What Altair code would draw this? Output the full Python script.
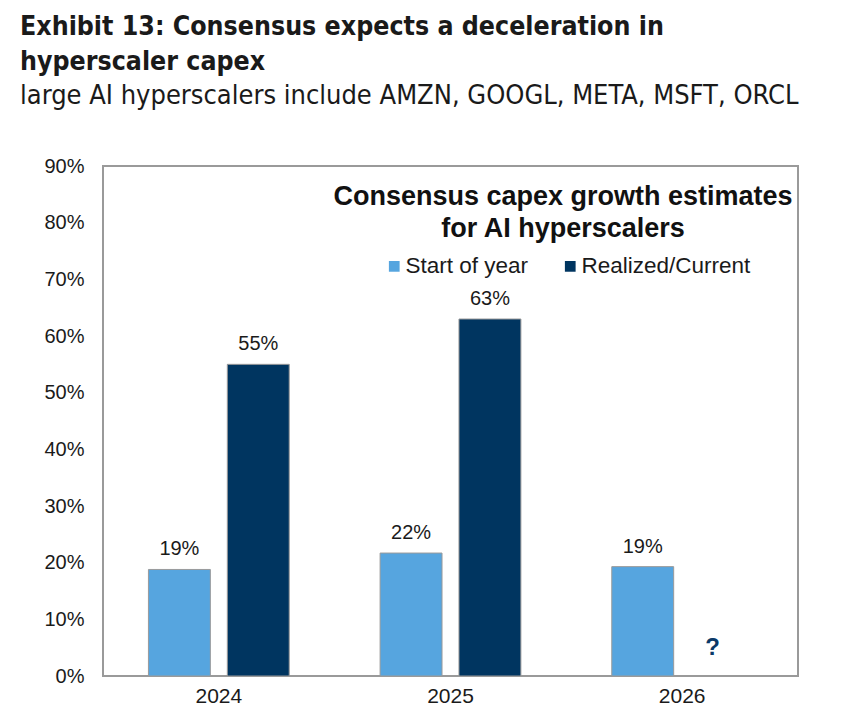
import altair as alt
import pandas as pd

years = ["2024", "2025", "2026"]
series = ["Start of year", "Realized/Current"]
start_of_year = [0.188, 0.217, 0.193]
realized = [0.55, 0.63, None]
unknown_year = "2026"
unknown_marker_value = 0.05
colors = ["#56A5DF", "#003560"]

rows = []
for y, s, r in zip(years, start_of_year, realized):
    rows.append({"year": y, "series": series[0], "value": s})
    if r is not None:
        rows.append({"year": y, "series": series[1], "value": r})
df = pd.DataFrame(rows)

q_df = pd.DataFrame([{"year": unknown_year, "series": series[1], "value": unknown_marker_value, "t": "?"}])
inner_title_df = pd.DataFrame([{"t": "Consensus capex growth estimates\nfor AI hyperscalers"}])

FONT = "Liberation Sans, Arial, sans-serif"
TFONT = "Liberation Sans Narrow, DejaVu Sans Condensed, sans-serif"

x_enc = alt.X("year:N", sort=years, title=None,
              scale=alt.Scale(paddingInner=0, paddingOuter=0),
              axis=alt.Axis(labelAngle=0, ticks=False, domain=False, labelPadding=9,
                            labelFontSize=21, labelColor="#1a1a1a", labelFont=FONT))
xo_enc = alt.XOffset("series:N", sort=series,
                     scale=alt.Scale(paddingInner=0.215, paddingOuter=0.576))
y_enc = alt.Y("value:Q", title=None,
              scale=alt.Scale(domain=[0, 0.9], nice=False),
              axis=alt.Axis(format=".0%", values=[i / 10 for i in range(10)], grid=False,
                            ticks=False, domain=False, labelPadding=19, labelFontSize=20,
                            labelColor="#1a1a1a", labelFont=FONT, minExtent=83))

base = alt.Chart(df)

bars = base.mark_bar(stroke="#9a9a9a", strokeWidth=1).encode(
    x=x_enc, xOffset=xo_enc, y=y_enc,
    color=alt.Color("series:N", sort=series,
                    scale=alt.Scale(domain=series, range=colors),
                    legend=alt.Legend(title=None, orient="none", direction="horizontal",
                                      legendX=280, legendY=89, symbolType="square",
                                      symbolSize=115, symbolStrokeWidth=0,
                                      labelFontSize=22.5, labelFont=FONT, labelColor="#1a1a1a",
                                      labelLimit=400, columnPadding=30, labelOffset=0)),
)

labels = base.mark_text(baseline="bottom", dy=-10, fontSize=20, font=FONT, color="#1a1a1a").encode(
    x=x_enc, xOffset=xo_enc, y=y_enc,
    text=alt.Text("value:Q", format=".0%"),
)

qmark = alt.Chart(q_df).mark_text(fontSize=24, fontWeight="bold", font=FONT, color="#0b3a68", dx=-9).encode(
    x=x_enc, xOffset=xo_enc, y=y_enc, text="t:N",
)

inner_title = alt.Chart(inner_title_df).mark_text(
    lineBreak="\n", fontSize=27, fontWeight="bold", font=FONT, color="#111111",
    baseline="top", align="center", lineHeight=32,
).encode(x=alt.value(460), y=alt.value(18), text="t:N")

chart = alt.layer(bars, labels, qmark, inner_title).properties(
    width=695, height=510,
    padding={"left": 12, "top": 5, "right": 10, "bottom": 10},
    title=alt.TitleParams(
        text=["Exhibit 13: Consensus expects a deceleration in", "hyperscaler capex"],
        subtitle="large AI hyperscalers include AMZN, GOOGL, META, MSFT, ORCL",
        anchor="start", frame="bounds",
        font=TFONT,
        fontSize=26.5, fontWeight="bold", color="#1a1a1a", lineHeight=35,
        subtitleFont=TFONT,
        subtitleFontSize=27, subtitleColor="#1a1a1a", subtitlePadding=8,
        offset=47,
    ),
).configure_view(stroke="#9a9a9a", strokeWidth=2)

chart.save("out.html", embed_options={"renderer": "svg", "actions": False})
